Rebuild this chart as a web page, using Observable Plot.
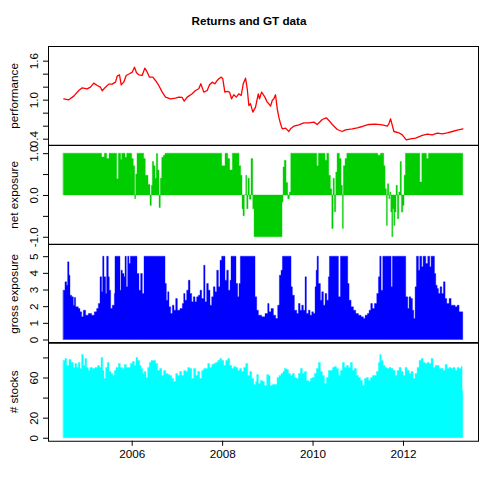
<!DOCTYPE html>
<html><head><meta charset="utf-8">
<script src="https://cdn.jsdelivr.net/npm/d3@7"></script>
<script src="https://cdn.jsdelivr.net/npm/@observablehq/plot@0.6"></script>
<style>
html,body{margin:0;padding:0;background:#fff;}
#chart{position:relative;width:498px;height:498px;background:#fff;font-family:"Liberation Sans",Arial,Helvetica,sans-serif;}
#title{position:absolute;left:0;top:14px;width:498px;text-align:center;font-weight:bold;font-size:11.7px;line-height:14px;color:#000;}
</style></head><body>
<div id="chart"><div id="title">Returns and GT data</div></div>
<script>
// ---- performance (line) ----
const perfDates = [2004.487,2004.597,2004.708,2004.819,2004.894,2005.004,2005.077,2005.150,2005.226,2005.299,
2005.336,2005.409,2005.482,2005.558,2005.631,2005.668,2005.719,2005.757,2005.814,2005.867,
2005.940,2006.000,2006.051,2006.095,2006.146,2006.221,2006.279,2006.332,2006.383,2006.456,
2006.515,2006.588,2006.664,2006.737,2006.847,2006.958,2007.031,2007.106,2007.150,2007.217,
2007.327,2007.400,2007.473,2007.518,2007.584,2007.659,2007.710,2007.770,2007.827,2007.881,
2007.916,2007.969,2008.004,2008.049,2008.102,2008.153,2008.197,2008.248,2008.301,2008.358,
2008.411,2008.456,2008.507,2008.544,2008.580,2008.617,2008.668,2008.728,2008.788,2008.816,
2008.861,2008.889,2008.934,2008.987,2009.022,2009.060,2009.097,2009.133,2009.170,2009.208,
2009.243,2009.281,2009.319,2009.392,2009.465,2009.502,2009.575,2009.686,2009.796,2009.907,
2010.018,2010.093,2010.204,2010.292,2010.350,2010.425,2010.535,2010.646,2010.719,2010.867,
2010.978,2011.088,2011.235,2011.383,2011.531,2011.642,2011.677,2011.715,2011.752,2011.788,
2011.898,2011.973,2012.062,2012.157,2012.268,2012.416,2012.527,2012.637,2012.748,2012.858,
2012.969,2013.080,2013.190,2013.314];
const perfValues = [1.021,1.006,1.062,1.149,1.190,1.175,1.200,1.262,1.226,1.200,
1.144,1.200,1.247,1.247,1.277,1.370,1.390,1.236,1.277,1.380,
1.406,1.431,1.508,1.421,1.390,1.380,1.493,1.431,1.354,1.354,
1.303,1.226,1.124,1.047,1.021,1.031,1.047,1.042,0.985,1.047,
1.098,1.149,1.175,1.252,1.124,1.149,1.236,1.277,1.252,1.303,
1.329,1.354,1.329,1.124,1.134,1.124,1.021,1.083,1.047,1.098,
1.072,1.252,1.339,1.175,0.918,0.944,0.816,0.893,1.098,1.021,
1.124,1.098,1.047,0.970,0.944,0.908,0.995,1.021,1.083,0.867,
0.739,0.636,0.559,0.570,0.518,0.559,0.600,0.621,0.652,0.652,
0.662,0.626,0.703,0.729,0.688,0.626,0.549,0.518,0.544,0.559,
0.575,0.595,0.626,0.631,0.621,0.600,0.636,0.713,0.611,0.518,
0.498,0.467,0.390,0.405,0.416,0.457,0.477,0.467,0.493,0.482,
0.498,0.518,0.539,0.559];

// ---- net exposure (step bars) ----
const netDates = [2004.487,2005.336,2005.394,2005.447,2005.498,2005.668,2005.704,2005.757,2005.779,2005.852,
2005.889,2006.000,2006.035,2006.066,2006.088,2006.117,2006.265,2006.301,2006.361,2006.405,
2006.434,2006.456,2006.487,2006.515,2006.544,2006.575,2006.604,2006.633,2006.664,2006.699,
2006.737,2007.991,2008.064,2008.124,2008.168,2008.226,2008.374,2008.411,2008.440,2008.462,
2008.491,2008.522,2008.544,2008.573,2008.602,2008.639,2008.677,2008.706,2009.325,2009.347,
2009.376,2009.414,2009.451,2009.487,2009.518,2010.093,2010.128,2010.276,2010.314,2010.358,
2010.394,2010.425,2010.454,2010.482,2010.513,2010.542,2010.593,2010.631,2010.659,2010.681,
2010.719,2010.757,2011.442,2011.500,2011.575,2011.604,2011.633,2011.655,2011.686,2011.708,
2011.730,2011.752,2011.774,2011.796,2011.819,2011.847,2011.876,2011.907,2011.936,2011.965,
2011.996,2012.024,2012.053,2012.372,2012.416,2012.518,2012.562];
const netValues = [1.0,0.91,1.0,0.87,1.0,0.39,1.0,0.85,1.0,0.9,
1.0,0.87,0.7,-0.09,0.5,1.0,0.87,0.47,0.25,-0.25,
0.23,0.8,0.7,0.4,0.99,0.6,-0.3,0.4,0.9,0.95,
1.0,0.7,1.0,0.87,0.6,1.0,0.7,0.47,-0.33,-0.5,
0.0,0.47,-0.33,0.4,-0.1,0.87,-0.33,-1.0,-0.17,0.67,
0.83,0.3,-0.09,0.07,1.0,0.7,1.0,0.83,1.0,0.47,
0.15,-0.8,0.4,-0.4,0.55,1.0,0.87,0.23,-0.8,0.7,
0.87,1.0,0.95,1.0,0.7,0.15,-0.73,0.27,-0.09,0.07,
-0.41,-1.0,-0.33,-0.73,-0.41,0.23,-0.57,0.07,0.8,-0.41,
-0.25,0.47,1.0,0.31,1.0,0.87,1.0];

// ---- gross exposure (step bars) ----
const grossDates = [2004.487,2004.524,2004.561,2004.583,2004.613,2004.635,2004.672,2004.709,2004.731,2004.760,
2004.819,2004.856,2004.893,2004.930,2004.981,2005.040,2005.114,2005.173,2005.225,2005.262,
2005.299,2005.335,2005.358,2005.387,2005.424,2005.446,2005.483,2005.505,2005.535,2005.571,
2005.616,2005.630,2005.741,2005.763,2005.793,2005.830,2005.852,2005.881,2005.911,2005.940,
2005.970,2006.117,2006.161,2006.198,2006.235,2006.272,2006.737,2006.766,2006.796,2006.825,
2006.862,2006.899,2006.936,2006.973,2007.010,2007.068,2007.120,2007.150,2007.179,2007.216,
2007.253,2007.290,2007.327,2007.363,2007.400,2007.437,2007.474,2007.511,2007.548,2007.592,
2007.622,2007.658,2007.695,2007.732,2007.769,2007.806,2007.843,2007.880,2007.917,2007.953,
2007.990,2008.064,2008.101,2008.138,2008.175,2008.197,2008.307,2008.344,2008.374,2008.403,
2008.728,2008.765,2008.802,2008.875,2008.949,2009.008,2009.038,2009.082,2009.134,2009.185,
2009.229,2009.266,2009.303,2009.333,2009.524,2009.554,2009.598,2009.650,2009.687,2009.724,
2009.760,2009.797,2009.834,2009.864,2009.908,2009.945,2009.982,2010.019,2010.055,2010.078,
2010.100,2010.129,2010.173,2010.203,2010.240,2010.277,2010.314,2010.350,2010.373,2010.572,
2010.616,2010.778,2010.808,2010.852,2010.904,2010.955,2011.014,2011.073,2011.125,2011.162,
2011.213,2011.250,2011.287,2011.324,2011.368,2011.420,2011.457,2011.486,2011.516,2011.553,
2011.737,2011.766,2012.061,2012.106,2012.135,2012.172,2012.209,2012.238,2012.268,2012.297,
2012.342,2012.371,2012.415,2012.445,2012.504,2012.548,2012.592,2012.622,2012.696,2012.725,
2012.755,2012.784,2012.821,2012.858,2012.895,2012.931,2012.968,2013.020,2013.064,2013.108,
2013.153,2013.197,2013.241,2013.285];
const grossValues = [2.96,3.46,3.26,4.66,3.86,2.66,2.56,2.06,2.52,1.96,
1.86,1.66,1.36,1.76,1.46,1.56,1.46,1.66,1.86,2.16,
3.76,2.86,5,3.76,2.76,5,3.76,2.96,1.86,2.06,
2.76,5,2.96,4.16,3.96,3.76,5,3.16,5,4.56,
5,3.96,2.96,3.96,2.76,5,3.36,2.36,2.86,1.96,
1.56,2.06,1.76,2.46,1.76,1.86,2.16,2.76,2.36,2.96,
3.56,2.76,2.26,2.56,2.26,2.56,2.66,2.96,2.46,4.46,
2.26,3.36,2.96,2.06,2.56,3.16,2.86,4.16,3.16,4.76,
5,3.56,4.16,2.96,3.56,5,3.36,2.56,3.36,5,
2.56,1.76,1.46,1.36,1.56,2.16,1.66,1.86,1.46,1.26,
2.06,3.86,4.16,5,3.16,2.66,1.76,1.56,2.16,1.76,
2.06,1.76,3.76,1.56,1.76,1.46,1.66,1.56,3.16,4.16,
5,3.36,2.36,2.86,2.06,2.76,2.36,3.76,5,2.56,
5,3.36,2.36,1.96,1.76,1.56,1.46,1.36,1.26,1.46,
1.56,1.76,2.16,1.86,2.16,2.76,3.76,5,2.96,5,
3.16,5,2.56,1.86,2.56,2.46,1.76,1.26,3.16,5,
4.16,5,4.36,5,4.56,5,4.36,5,3.96,3.26,
3.06,2.76,3.16,2.76,3.46,2.46,2.16,2.46,2.06,2.06,
1.96,2.06,1.66,1.66];

// ---- # stocks (step bars) ----
const stockDates = [2004.487,2004.524,2004.561,2004.613,2004.657,2004.709,2004.745,2004.782,2004.819,2004.856,
2004.893,2004.930,2004.967,2005.004,2005.040,2005.077,2005.129,2005.188,2005.247,2005.291,
2005.321,2005.358,2005.387,2005.424,2005.461,2005.498,2005.542,2005.579,2005.616,2005.653,
2005.704,2005.748,2005.793,2005.837,2005.881,2005.925,2005.970,2006.014,2006.058,2006.095,
2006.132,2006.176,2006.206,2006.243,2006.279,2006.316,2006.353,2006.390,2006.427,2006.478,
2006.530,2006.574,2006.619,2006.663,2006.707,2006.751,2006.796,2006.840,2006.884,2006.928,
2006.973,2007.017,2007.061,2007.105,2007.150,2007.194,2007.238,2007.282,2007.327,2007.371,
2007.415,2007.459,2007.504,2007.548,2007.592,2007.636,2007.681,2007.725,2007.769,2007.813,
2007.858,2007.902,2007.946,2007.990,2008.035,2008.079,2008.123,2008.167,2008.212,2008.256,
2008.300,2008.344,2008.389,2008.433,2008.477,2008.521,2008.566,2008.610,2008.654,2008.698,
2008.743,2008.765,2008.802,2008.846,2008.890,2008.934,2008.986,2009.023,2009.060,2009.111,
2009.170,2009.215,2009.259,2009.303,2009.347,2009.377,2009.421,2009.465,2009.510,2009.554,
2009.598,2009.642,2009.687,2009.731,2009.775,2009.819,2009.864,2009.908,2009.952,2009.996,
2010.041,2010.085,2010.129,2010.173,2010.218,2010.262,2010.306,2010.350,2010.395,2010.439,
2010.483,2010.527,2010.572,2010.616,2010.660,2010.704,2010.749,2010.793,2010.837,2010.881,
2010.926,2010.970,2011.014,2011.058,2011.103,2011.147,2011.191,2011.235,2011.280,2011.324,
2011.368,2011.412,2011.457,2011.486,2011.516,2011.560,2011.604,2011.648,2011.693,2011.737,
2011.781,2011.825,2011.870,2011.914,2011.958,2012.002,2012.047,2012.091,2012.135,2012.179,
2012.224,2012.268,2012.312,2012.356,2012.401,2012.445,2012.489,2012.533,2012.578,2012.622,
2012.666,2012.710,2012.755,2012.799,2012.843,2012.887,2012.932,2012.976,2013.020,2013.064,
2013.108,2013.153,2013.197,2013.241,2013.285,2013.308];
const stockValues = [77,79,72,78,75,70,74,70,75,69,
83,72,79,70,67,70,69,70,72,70,
80,67,59,70,75,66,64,62,67,70,
74,70,69,73,70,70,74,76,72,80,
77,72,69,64,66,60,70,75,77,77,
74,67,69,62,67,64,63,62,59,56,
64,62,66,62,67,66,70,69,59,69,
62,66,59,67,69,69,74,70,73,74,
75,77,79,77,72,77,79,72,69,71,
70,67,69,66,70,74,62,66,59,53,
56,63,54,57,56,52,63,62,52,53,
53,60,62,64,66,69,68,64,62,64,
60,59,64,69,64,66,57,56,59,60,
64,69,75,66,62,54,60,67,67,70,
71,69,62,67,75,70,72,70,75,67,
69,62,60,57,52,59,60,57,60,62,
62,66,75,83,77,72,70,69,70,69,
67,62,67,70,66,62,70,67,64,66,
59,64,70,77,79,75,74,75,74,79,
70,72,72,69,69,67,73,69,70,69,
70,67,70,69,71,47];
const lastDate = 2013.322;

// ---- axes ----
const yearTicks = [2006, 2008, 2010, 2012];
const perfTicks = [0.4, 0.6, 0.8, 1.0, 1.2, 1.4, 1.6];
const perfLabels = [0.4, 1.0, 1.6];
const netTicks = [-1, -0.5, 0, 0.5, 1];
const netLabels = [-1, 0, 1];
const grossTicks = [0, 1, 2, 3, 4, 5];
const grossLabels = [0, 1, 2, 3, 4, 5];
const stockTicks = [0, 20, 40, 60, 80];
const stockLabels = [0, 20, 60];

// ---- layout ----
const W = 498, ML = 48, MR = 20, PAD = 14, H = 98.75, FS = "11.7px";
const xDomain = [2004.149, 2013.659];
const FONT = "'Liberation Sans', Arial, Helvetica, sans-serif";

// step series: each value holds until the next date; a closing point at lastDate
function steps(dates, values) {
  const pts = values.map((v, i) => ({x: dates[i], y: v}));
  pts.push({x: lastDate, y: values[values.length - 1]});
  return pts;
}

function panel({top, yDomain, dataMarks, ticks, labels, fmt, title, xAxis}) {
  const mb = xAxis ? 40 : PAD;
  const el = Plot.plot({
    width: W, height: H + PAD + mb,
    marginLeft: ML, marginRight: MR, marginTop: PAD, marginBottom: mb,
    x: xAxis ? {domain: xDomain} : {domain: xDomain, axis: null},
    y: {domain: yDomain},
    style: {background: "transparent", overflow: "visible", fontFamily: FONT, fontSize: FS, color: "black"},
    marks: [
      ...dataMarks,
      Plot.frame({stroke: "black", strokeWidth: 1}),
      Plot.axisY({ticks, tickSize: 5, tickFormat: () => "", label: null, stroke: "black"}),
      Plot.text(labels, {y: d => d, text: fmt, frameAnchor: "left", dx: -10.5, rotate: -90,
        textAnchor: "middle", lineAnchor: "bottom", fontSize: FS, fill: "black"}),
      Plot.text([title], {text: d => d, frameAnchor: "left", dx: -30.5, rotate: -90,
        textAnchor: "middle", lineAnchor: "bottom", fontSize: FS, fill: "black"}),
      xAxis ? Plot.axisX({ticks: yearTicks, tickSize: 5, tickPadding: 3, tickFormat: d => String(d),
        label: null, fontSize: FS, stroke: "black", fill: "black"}) : null
    ]
  });
  el.style.position = "absolute";
  el.style.left = "0px";
  el.style.top = (top - PAD) + "px";
  document.getElementById("chart").appendChild(el);
}

function bars(dates, values, color) {
  return Plot.area(steps(dates, values), {x1: "x", y1: 0, y2: "y", curve: "step-after",
    fill: color, stroke: color, strokeWidth: 0.6, strokeOpacity: 0.6});
}

const perfData = perfDates.map((d, i) => ({x: d, y: perfValues[i]}));

panel({
  top: 46, yDomain: [0.3065, 1.8257], ticks: perfTicks, labels: perfLabels,
  fmt: d => d.toFixed(1), title: "performance",
  dataMarks: [Plot.line(perfData, {x: "x", y: "y", stroke: "#FF0000", strokeWidth: 1.3})]
});
panel({
  top: 46 + H, yDomain: [-1.167, 1.195], ticks: netTicks, labels: netLabels,
  fmt: d => d.toFixed(1), title: "net exposure",
  dataMarks: [bars(netDates, netValues, "#00CD00")]
});
panel({
  top: 46 + 2 * H, yDomain: [-0.195, 5.732], ticks: grossTicks, labels: grossLabels,
  fmt: d => String(d), title: "gross exposure",
  dataMarks: [bars(grossDates, grossValues, "#0000FF")]
});
panel({
  top: 46 + 3 * H, yDomain: [-2.99, 95.37], ticks: stockTicks, labels: stockLabels,
  fmt: d => String(d), title: "# stocks", xAxis: true,
  dataMarks: [bars(stockDates, stockValues, "#00FFFF")]
});
</script>
</body></html>
